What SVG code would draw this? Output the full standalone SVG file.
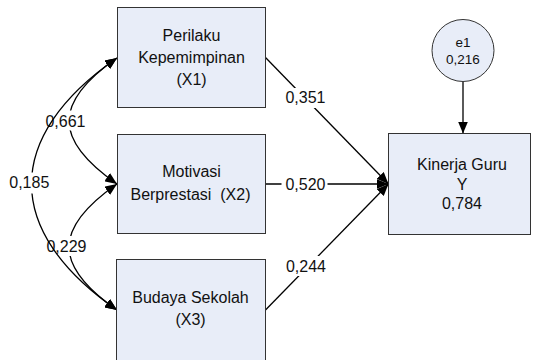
<svg xmlns="http://www.w3.org/2000/svg" width="534" height="360" viewBox="0 0 534 360">
<style>
  .box { fill: #E8EDF8; stroke: #333333; stroke-width: 1; }
  .t { font-family: "Liberation Sans", Arial, sans-serif; font-size: 16px; fill: #111111; text-anchor: middle; }
  .ts { font-family: "Liberation Sans", Arial, sans-serif; font-size: 13.5px; fill: #111111; text-anchor: middle; }
  .ln { fill: none; stroke: #000000; stroke-width: 1.3; }
  .bg { fill: #FFFFFF; stroke: none; }
</style>
<defs>
  <marker id="ah" markerUnits="userSpaceOnUse" markerWidth="13" markerHeight="10" refX="12" refY="5" orient="auto-start-reverse" viewBox="0 0 13 10">
    <path d="M0,0 L12,5 L0,10 Z" fill="#000000"/>
  </marker>
</defs>
<rect width="534" height="360" fill="#FFFFFF"/>

<g id="connectors">
  <g id="cov-x1-x2">
    <path class="ln" d="M117,58 C53,102.5 53,139.5 117,184" marker-start="url(#ah)" marker-end="url(#ah)"/>
    <rect class="bg" x="42" y="110.5" width="47" height="20"/>
    <text class="t" x="65.5" y="126.5">0,661</text>
  </g>
  <g id="cov-x2-x3">
    <path class="ln" d="M117,184 C53,228.5 53,265.5 117,310" marker-start="url(#ah)" marker-end="url(#ah)"/>
    <rect class="bg" x="43" y="236" width="47" height="20"/>
    <text class="t" x="66.5" y="251.7">0,229</text>
  </g>
  <g id="cov-x1-x3">
    <path class="ln" d="M117,58 C3,137 3,231 117,310" marker-start="url(#ah)" marker-end="url(#ah)"/>
    <rect class="bg" x="6" y="172.5" width="47" height="21"/>
    <text class="t" x="29.3" y="188.3">0,185</text>
  </g>
  <g id="path-x1-y">
    <line class="ln" x1="265.5" y1="57.5" x2="388.5" y2="184" marker-end="url(#ah)"/>
    <rect class="bg" x="282" y="88" width="47" height="20"/>
    <text class="t" x="305.5" y="103.3">0,351</text>
  </g>
  <g id="path-x2-y">
    <line class="ln" x1="265.5" y1="184" x2="388.5" y2="184" marker-end="url(#ah)"/>
    <rect class="bg" x="281.5" y="175" width="46" height="18"/>
    <text class="t" x="305.5" y="189.5">0,520</text>
  </g>
  <g id="path-x3-y">
    <line class="ln" x1="265.5" y1="310" x2="388.5" y2="184" marker-end="url(#ah)"/>
    <rect class="bg" x="282" y="256" width="47" height="20"/>
    <text class="t" x="306" y="271.7">0,244</text>
  </g>
  <g id="path-e1-y">
    <line class="ln" x1="463" y1="81.5" x2="463" y2="133.5" marker-end="url(#ah)"/>
  </g>
</g>

<g id="X1">
  <rect class="box" x="117.5" y="7.5" width="148" height="100"/>
  <text class="t" x="191.5" y="41">Perilaku</text>
  <text class="t" x="191.5" y="63.3">Kepemimpinan</text>
  <text class="t" x="191.5" y="85">(X1)</text>
</g>
<g id="X2">
  <rect class="box" x="117.5" y="134.5" width="148" height="99"/>
  <text class="t" x="191.5" y="176.7">Motivasi</text>
  <text class="t" x="190.5" y="200" style="white-space:pre">Berprestasi  (X2)</text>
</g>
<g id="X3">
  <rect class="box" x="116.5" y="259.5" width="149" height="102"/>
  <text class="t" x="190.5" y="303.3">Budaya Sekolah</text>
  <text class="t" x="190.5" y="325">(X3)</text>
</g>
<g id="Y">
  <rect class="box" x="388.5" y="133.5" width="142" height="101"/>
  <text class="t" x="462" y="169.5">Kinerja Guru</text>
  <text class="t" x="462" y="189.5">Y</text>
  <text class="t" x="462" y="209.3">0,784</text>
</g>
<g id="e1">
  <circle class="box" cx="463" cy="50.5" r="31"/>
  <text class="ts" x="463" y="46.5">e1</text>
  <text class="ts" x="463" y="64.3">0,216</text>
</g>
</svg>
